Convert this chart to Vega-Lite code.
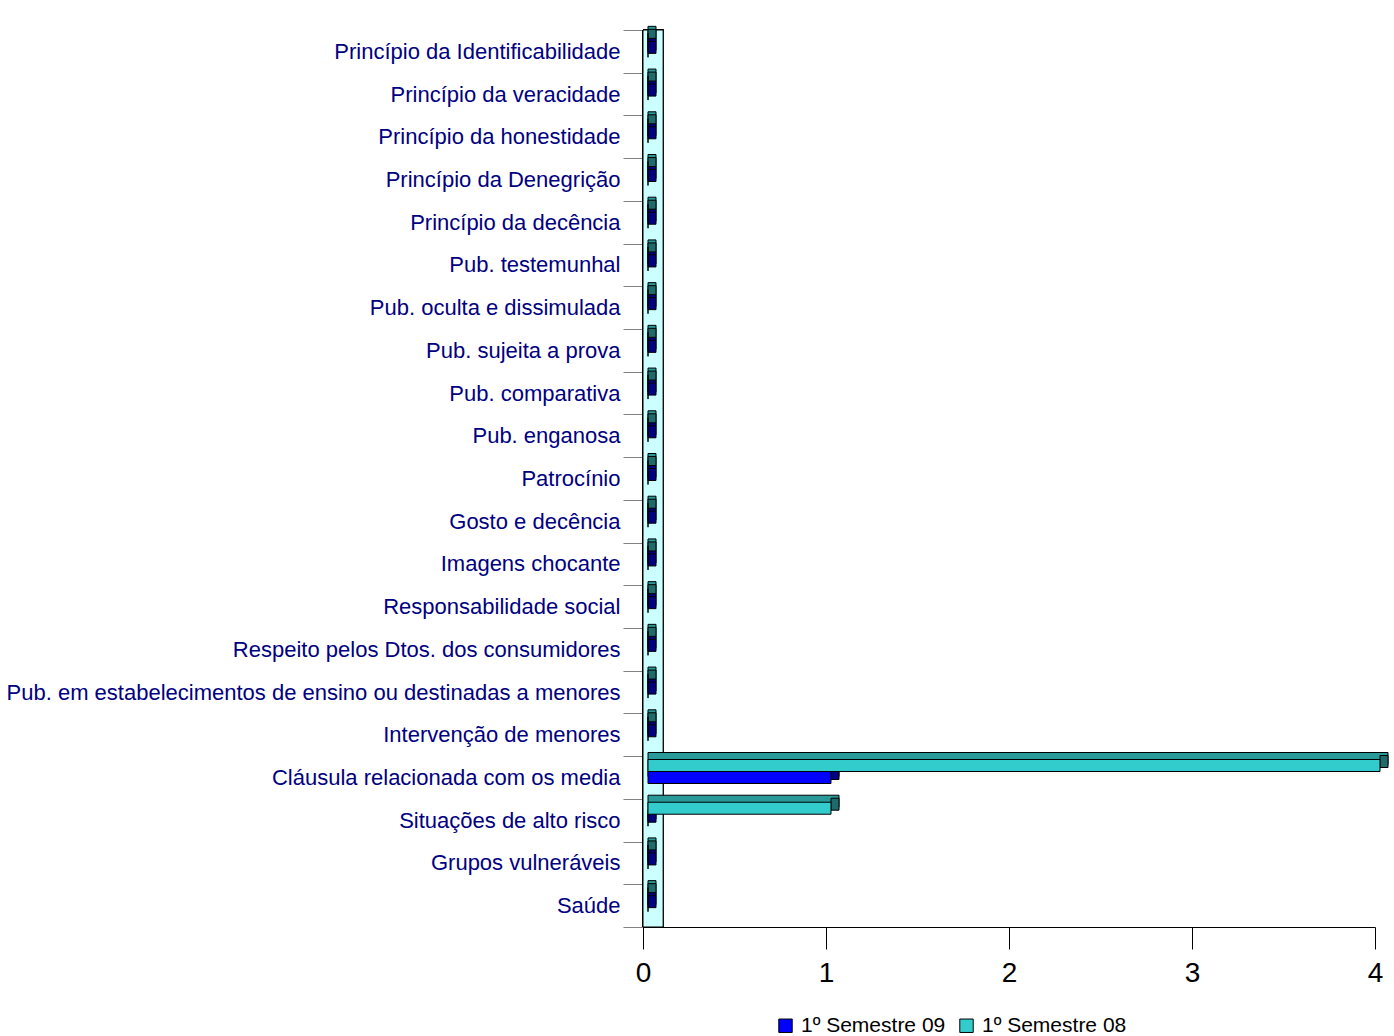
{
  "$schema": "https://vega.github.io/schema/vega-lite/v6.json",
  "autosize": {"type": "none"},
  "width": 732,
  "height": 897,
  "padding": {"left": 643, "top": 30, "right": 19, "bottom": 109},
  "background": "white",
  "config": {
    "view": {"stroke": null},
    "font": "Liberation Sans"
  },
  "data": {
    "values": [
      {"cat": "Princípio da Identificabilidade", "serie": "1º Semestre 08", "v": 0},
      {"cat": "Princípio da Identificabilidade", "serie": "1º Semestre 09", "v": 0},
      {"cat": "Princípio da veracidade", "serie": "1º Semestre 08", "v": 0},
      {"cat": "Princípio da veracidade", "serie": "1º Semestre 09", "v": 0},
      {"cat": "Princípio da honestidade", "serie": "1º Semestre 08", "v": 0},
      {"cat": "Princípio da honestidade", "serie": "1º Semestre 09", "v": 0},
      {"cat": "Princípio da Denegrição", "serie": "1º Semestre 08", "v": 0},
      {"cat": "Princípio da Denegrição", "serie": "1º Semestre 09", "v": 0},
      {"cat": "Princípio da decência", "serie": "1º Semestre 08", "v": 0},
      {"cat": "Princípio da decência", "serie": "1º Semestre 09", "v": 0},
      {"cat": "Pub. testemunhal", "serie": "1º Semestre 08", "v": 0},
      {"cat": "Pub. testemunhal", "serie": "1º Semestre 09", "v": 0},
      {"cat": "Pub. oculta e dissimulada", "serie": "1º Semestre 08", "v": 0},
      {"cat": "Pub. oculta e dissimulada", "serie": "1º Semestre 09", "v": 0},
      {"cat": "Pub. sujeita a prova", "serie": "1º Semestre 08", "v": 0},
      {"cat": "Pub. sujeita a prova", "serie": "1º Semestre 09", "v": 0},
      {"cat": "Pub. comparativa", "serie": "1º Semestre 08", "v": 0},
      {"cat": "Pub. comparativa", "serie": "1º Semestre 09", "v": 0},
      {"cat": "Pub. enganosa", "serie": "1º Semestre 08", "v": 0},
      {"cat": "Pub. enganosa", "serie": "1º Semestre 09", "v": 0},
      {"cat": "Patrocínio", "serie": "1º Semestre 08", "v": 0},
      {"cat": "Patrocínio", "serie": "1º Semestre 09", "v": 0},
      {"cat": "Gosto e decência", "serie": "1º Semestre 08", "v": 0},
      {"cat": "Gosto e decência", "serie": "1º Semestre 09", "v": 0},
      {"cat": "Imagens chocante", "serie": "1º Semestre 08", "v": 0},
      {"cat": "Imagens chocante", "serie": "1º Semestre 09", "v": 0},
      {"cat": "Responsabilidade social", "serie": "1º Semestre 08", "v": 0},
      {"cat": "Responsabilidade social", "serie": "1º Semestre 09", "v": 0},
      {"cat": "Respeito pelos Dtos. dos consumidores", "serie": "1º Semestre 08", "v": 0},
      {"cat": "Respeito pelos Dtos. dos consumidores", "serie": "1º Semestre 09", "v": 0},
      {"cat": "Pub. em estabelecimentos de ensino ou destinadas a menores", "serie": "1º Semestre 08", "v": 0},
      {"cat": "Pub. em estabelecimentos de ensino ou destinadas a menores", "serie": "1º Semestre 09", "v": 0},
      {"cat": "Intervenção de menores", "serie": "1º Semestre 08", "v": 0},
      {"cat": "Intervenção de menores", "serie": "1º Semestre 09", "v": 0},
      {"cat": "Cláusula relacionada com os media", "serie": "1º Semestre 08", "v": 4},
      {"cat": "Cláusula relacionada com os media", "serie": "1º Semestre 09", "v": 1},
      {"cat": "Situações de alto risco", "serie": "1º Semestre 08", "v": 1},
      {"cat": "Situações de alto risco", "serie": "1º Semestre 09", "v": 0},
      {"cat": "Grupos vulneráveis", "serie": "1º Semestre 08", "v": 0},
      {"cat": "Grupos vulneráveis", "serie": "1º Semestre 09", "v": 0},
      {"cat": "Saúde", "serie": "1º Semestre 08", "v": 0},
      {"cat": "Saúde", "serie": "1º Semestre 09", "v": 0}
    ]
  },
  "layer": [
    {
      "mark": {"type": "rect", "fill": "#CCFFFF", "stroke": "#000000", "strokeWidth": 1},
      "encoding": {
        "x": {"datum": 0, "type": "quantitative"},
        "x2": {"datum": 0.11}
      }
    },
    {
      "transform": [{"filter": "datum.serie === '1º Semestre 08'"}],
      "mark": {"type": "bar", "height": 12, "yOffset": -19, "xOffset": 13, "x2Offset": 5, "fill": "#2A9999", "stroke": "#000000", "strokeWidth": 1},
      "encoding": {
        "y": {"field": "cat", "type": "nominal", "sort": null},
        "x": {"field": "v", "type": "quantitative"},
        "x2": {"datum": 0}
      }
    },
    {
      "transform": [{"filter": "datum.serie === '1º Semestre 08'"}],
      "mark": {"type": "bar", "height": 12, "yOffset": -16, "xOffset": 13, "x2Offset": 5, "fill": "#1F6B6B", "stroke": "#000000", "strokeWidth": 1},
      "encoding": {
        "y": {"field": "cat", "type": "nominal", "sort": null},
        "x": {"field": "v", "type": "quantitative"},
        "x2": {"field": "v"}
      }
    },
    {
      "transform": [{"filter": "datum.serie === '1º Semestre 09'"}],
      "mark": {"type": "bar", "height": 12, "yOffset": -7, "xOffset": 13, "x2Offset": 5, "fill": "#000080", "stroke": "#000000", "strokeWidth": 1},
      "encoding": {
        "y": {"field": "cat", "type": "nominal", "sort": null},
        "x": {"field": "v", "type": "quantitative"},
        "x2": {"datum": 0}
      }
    },
    {
      "transform": [{"filter": "datum.serie === '1º Semestre 09'"}],
      "mark": {"type": "bar", "height": 12, "yOffset": -4, "xOffset": 13, "x2Offset": 5, "fill": "#000080", "stroke": "#000000", "strokeWidth": 1},
      "encoding": {
        "y": {"field": "cat", "type": "nominal", "sort": null},
        "x": {"field": "v", "type": "quantitative"},
        "x2": {"field": "v"}
      }
    },
    {
      "transform": [{"filter": "datum.serie === '1º Semestre 09'"}],
      "mark": {"type": "bar", "height": 12, "yOffset": 0, "xOffset": 5, "x2Offset": 5, "stroke": "#000000", "strokeWidth": 1},
      "encoding": {
        "y": {"field": "cat", "type": "nominal", "sort": null},
        "x": {"field": "v", "type": "quantitative"},
        "x2": {"datum": 0},
        "color": {"field": "serie", "type": "nominal"}
      }
    },
    {
      "transform": [{"filter": "datum.serie === '1º Semestre 08'"}],
      "mark": {"type": "bar", "height": 12, "yOffset": -12, "xOffset": 5, "x2Offset": 5, "stroke": "#000000", "strokeWidth": 1},
      "encoding": {
        "y": {
          "field": "cat",
          "type": "nominal",
          "sort": null,
          "title": null,
          "scale": {"paddingInner": 0, "paddingOuter": 0},
          "axis": {
            "labelFontSize": 22,
            "labelColor": "#000080",
            "labelFont": "Liberation Sans",
            "labelLimit": 800,
            "tickBand": "extent",
            "tickSize": 20,
            "tickColor": "#808080",
            "labelPadding": 3,
            "domainColor": "#000000"
          }
        },
        "x": {
          "field": "v",
          "type": "quantitative",
          "title": null,
          "scale": {"domain": [0, 4], "nice": false, "zero": true},
          "axis": {
            "values": [0, 1, 2, 3, 4],
            "format": "d",
            "labelFontSize": 28,
            "labelColor": "#000000",
            "tickSize": 22,
            "tickColor": "#000000",
            "domainColor": "#000000",
            "labelPadding": 10,
            "grid": false,
            "labelFlush": false
          }
        },
        "x2": {"datum": 0},
        "color": {
          "field": "serie",
          "type": "nominal",
          "scale": {"domain": ["1º Semestre 09", "1º Semestre 08"], "range": ["#0000FF", "#33CCCC"]},
          "legend": {
            "title": null,
            "orient": "none",
            "direction": "horizontal",
            "legendX": 132,
            "legendY": 985,
            "symbolType": "square",
            "symbolSize": 180,
            "symbolStrokeColor": "#000000",
            "symbolStrokeWidth": 1,
            "labelFontSize": 21,
            "labelColor": "#000000",
            "labelOffset": 5,
            "columnPadding": 10
          }
        }
      }
    }
  ]
}
